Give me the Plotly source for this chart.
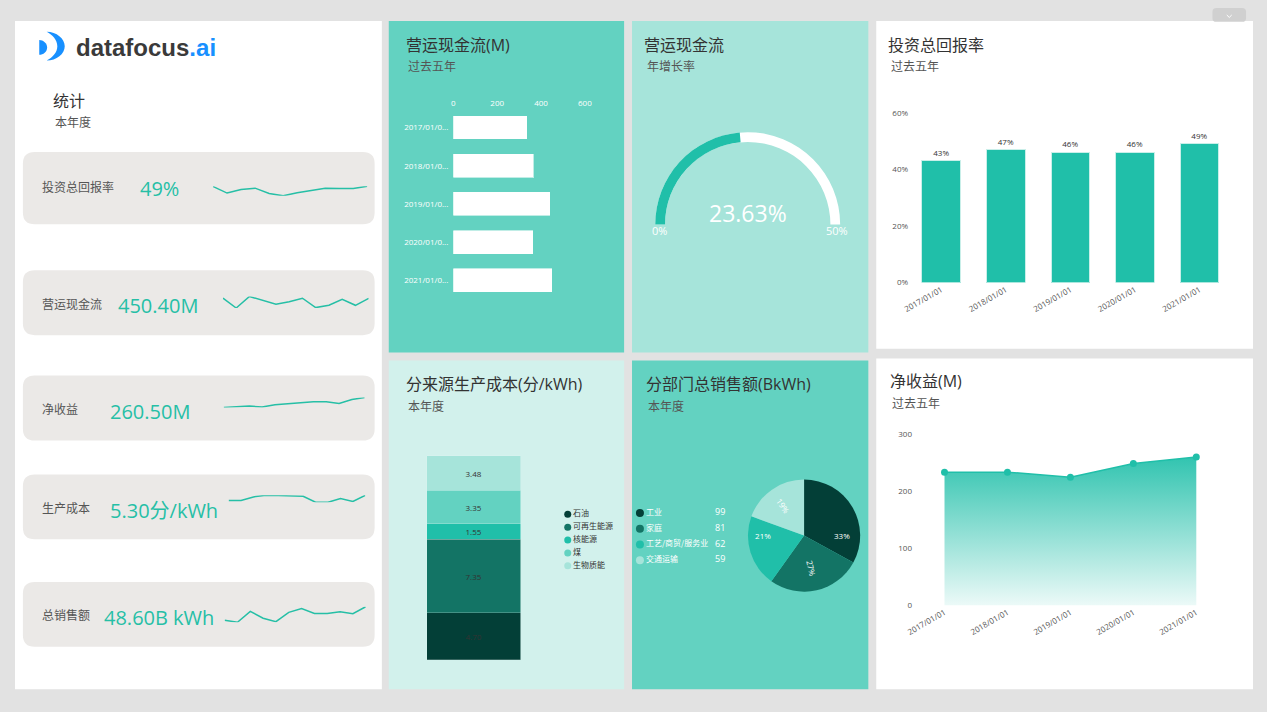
import plotly.graph_objects as go

W, H = 1267, 712
# the page keeps its default 8px body margin; the figure fills the body's content box
OFF = 8
FW, FH = W - 2 * OFF, H - 2 * OFF

# ---------------- data ----------------
years = ["2017/01/01", "2018/01/01", "2019/01/01", "2020/01/01", "2021/01/01"]
year_ticks = [y[:9] + "..." for y in years]
cashflow_m = [335, 365, 440, 363, 450]
roi_pct = [43, 47, 46, 46, 49]
roi_ticks = [0, 20, 40, 60]
net_income_m = [234, 234, 225, 249, 260.5]
income_ticks = [0, 100, 200, 300]
cash_ticks = [0, 200, 400, 600]

cost_sources = ["石油", "可再生能源", "核能源", "煤", "生物质能"]
cost_values = [4.70, 7.35, 1.55, 3.35, 3.48]

sectors = ["工业", "家庭", "工艺/商贸/服务业", "交通运输"]
sector_sales = [99.4, 81.4, 62.4, 58.6]

growth_rate = 23.63
growth_max = 50

kpi_names = ["投资总回报率", "营运现金流", "净收益", "生产成本", "总销售额"]
kpi_values = ["49%", "450.40M", "260.50M", "5.30分/kWh", "48.60B kWh"]
spark_roi = [48.8, 44.7, 46.9, 47.8, 44.4, 43.0, 44.9, 46.3, 47.8, 47.6, 47.6, 49.0]
spark_cash = [441, 390, 450, 429, 409, 423, 441, 392, 404, 435, 404, 440]
spark_income = [220, 222.7, 225.3, 221.3, 230.7, 234.7, 238.7, 242.7, 242.7, 236, 252, 260]
spark_cost = [5.12, 5.12, 5.38, 5.5, 5.48, 5.43, 5.43, 5.0, 5.0, 5.26, 5.05, 5.5]
spark_sales = [39.9, 38.6, 45.6, 41.2, 39.0, 45.0, 47.5, 44.3, 44.3, 45.4, 44.1, 48.6]
sparks = [spark_roi, spark_cash, spark_income, spark_cost, spark_sales]

# ---------------- style ----------------
TEAL = "#20bfa9"
DARK1 = "#033f37"
DARK2 = "#137465"
MID = "#63d2c1"
LIGHT = "#a6e4da"
PALE = "#d2f1ec"
PAGE = "#e2e2e2"
CARD = "#ebe9e7"
KPI_C = "#26bfa6"
TXT = "#333333"
SUB = "#555555"
FONT = "Open Sans, Noto Sans CJK SC, sans-serif"
CJK = "Noto Sans CJK SC, sans-serif"


def fx(p):
    return (p - OFF) / FW


def fy(p):
    return 1 - (p - OFF) / FH


def dx(a, b):
    return [fx(a), fx(b)]


def dy(top, bottom):
    return [fy(bottom), fy(top)]


def P(x, y):
    return f"{fx(x):.5f},{fy(y):.5f}"


def rrect(x0, y0, x1, y1, r):
    return (f"M{P(x0 + r, y0)} L{P(x1 - r, y0)} Q{P(x1, y0)} {P(x1, y0 + r)} "
            f"L{P(x1, y1 - r)} Q{P(x1, y1)} {P(x1 - r, y1)} L{P(x0 + r, y1)} "
            f"Q{P(x0, y1)} {P(x0, y1 - r)} L{P(x0, y0 + r)} Q{P(x0, y0)} {P(x0 + r, y0)} Z")


fig = go.Figure()
shapes = []
annotations = []


def panel(x0, y0, x1, y1, color):
    shapes.append(dict(type="rect", xref="paper", yref="paper", x0=fx(x0), x1=fx(x1),
                       y0=fy(y1), y1=fy(y0), fillcolor=color, line=dict(width=0), layer="below"))


panel(8, 15, 379, 694, "white")
panel(386, 15, 624, 352, MID)
panel(632, 15, 871, 352, LIGHT)
panel(879, 15, 1260, 348, "white")
panel(386, 360, 624, 694, PALE)
panel(632, 360, 871, 694, MID)
panel(879, 358, 1260, 694, "white")

# top-right tab
shapes.append(dict(type="path", xref="paper", yref="paper", path=rrect(1219, 2, 1253, 16, 4),
                   fillcolor="#d0d0d0", line=dict(width=0), layer="below"))
shapes.append(dict(type="path", xref="paper", yref="paper",
                   path=f"M{P(1233.5, 9)} L{P(1236, 11.5)} L{P(1238.5, 9)}",
                   line=dict(color="white", width=1)))

# logo icon
shapes.append(dict(type="path", xref="paper", yref="paper",
                   path=(f"M{P(32.5, 34.5)} C{P(36.6, 34.5)} {P(40.5, 37.8)} {P(40.5, 42)} "
                         f"C{P(40.5, 46.2)} {P(36.6, 49.5)} {P(32.5, 49.5)} Z"),
                   fillcolor="#1890ff", line=dict(width=0)))
shapes.append(dict(type="path", xref="paper", yref="paper",
                   path=(f"M{P(40, 26)} C{P(50, 26)} {P(58.3, 33)} {P(58.3, 40.7)} "
                         f"C{P(58.3, 48.4)} {P(50, 55.3)} {P(40, 55.3)} "
                         f"C{P(46, 52)} {P(50.8, 47)} {P(50.8, 40.7)} "
                         f"C{P(50.8, 34.4)} {P(46, 29)} {P(40, 26)} Z"),
                   fillcolor="#1890ff", line=dict(width=0)))

# KPI cards
card_boxes = [(16, 148.3, 371.7, 221.7), (16, 268.3, 371.7, 334.3), (16, 375.3, 371.7, 441.3),
              (16, 476, 371.7, 541.7), (16, 585, 371.7, 651)]
for (x0, y0, x1, y1) in card_boxes:
    shapes.append(dict(type="path", xref="paper", yref="paper", path=rrect(x0, y0, x1, y1, 12),
                       fillcolor=CARD, line=dict(width=0), layer="below"))


def text(x, y, s, size, color, family=FONT, xanchor="left"):
    annotations.append(dict(x=fx(x), y=fy(y), xref="paper", yref="paper", text=s, showarrow=False,
                            xanchor=xanchor, yanchor="middle", font=dict(size=size, color=color, family=family)))


# logo text
annotations.append(dict(x=fx(68), y=fy(42), xref="paper", yref="paper", showarrow=False,
                        xanchor="left", yanchor="middle",
                        text="<b>datafocus<span style='color:#1890ff'>.ai</span></b>",
                        font=dict(size=24, color="#3a3a3a", family="Liberation Sans, Arial, sans-serif")))

# titles
titles = [
    (44, 96, "统计", 46, 118, "本年度"),
    (401, 39, "营运现金流(M)", 403, 61, "过去五年"),
    (642, 39, "营运现金流", 645, 61, "年增长率"),
    (889, 39, "投资总回报率", 892, 61, "过去五年"),
    (401, 384, "分来源生产成本(分/kWh)", 403, 407, "本年度"),
    (644, 384, "分部门总销售额(BkWh)", 646, 407, "本年度"),
    (891, 381, "净收益(M)", 893, 404, "过去五年"),
]
for (tx, ty, t, sx, sy, s) in titles:
    text(tx, ty, t, 16, TXT)
    text(sx, sy, s, 12, SUB)

# KPI texts
kpi_label_y = [184, 303, 410, 510, 619]
kpi_value_x = [132, 110.5, 102, 102, 95.5]
kpi_value_y = [185, 304, 412, 512.5, 621.5]
for i in range(5):
    text(33, kpi_label_y[i], kpi_names[i], 12, SUB)
    text(kpi_value_x[i], kpi_value_y[i], kpi_values[i], 20, KPI_C)

# ---------------- traces ----------------
# 1. horizontal bars
fig.add_trace(go.Bar(y=years, x=cashflow_m, orientation="h", width=0.6,
                     marker=dict(color="white", line=dict(color="rgba(255,255,255,0.6)", width=1)),
                     xaxis="x", yaxis="y", showlegend=False))

# 2. ROI bars
fig.add_trace(go.Bar(x=years, y=roi_pct, width=0.6,
                     marker=dict(color=TEAL, line=dict(color="#c9efe9", width=1)),
                     text=[f"{v}%" for v in roi_pct], textposition="outside",
                     textfont=dict(size=8, color=TXT), cliponaxis=False,
                     xaxis="x2", yaxis="y2", showlegend=False))

# 3. stacked cost bar
cost_colors = [DARK1, DARK2, TEAL, MID, LIGHT]
for name, v, c in zip(cost_sources, cost_values, cost_colors):
    fig.add_trace(go.Bar(x=[0], y=[v], name=name, width=1,
                         marker=dict(color=c, line=dict(color="rgba(255,255,255,0.35)", width=0.6)),
                         text=[f"{v:.2f}"], textposition="inside", insidetextanchor="middle",
                         textfont=dict(size=8, color=TXT), constraintext="none",
                         xaxis="x3", yaxis="y3", showlegend=False))

# 4. stacked legend
fig.add_trace(go.Scatter(x=[0] * len(cost_sources), y=cost_sources, mode="markers+text",
                         marker=dict(color=cost_colors, size=7), text=cost_sources,
                         textposition="middle right", textfont=dict(size=8, color=TXT, family=CJK),
                         cliponaxis=False, xaxis="x4", yaxis="y4", showlegend=False))

# 5. pie
sector_colors = [DARK1, DARK2, TEAL, LIGHT]
fig.add_trace(go.Pie(labels=sectors, values=sector_sales, sort=False, direction="clockwise",
                     rotation=0, marker=dict(colors=sector_colors, line=dict(width=0)),
                     texttemplate="%{percent:.0%}", textposition="inside",
                     insidetextorientation="radial", textfont=dict(size=8, color="white"),
                     domain=dict(x=dx(749, 863), y=dy(481, 595)), showlegend=False))

# 6. pie legend
fig.add_trace(go.Scatter(x=[0] * len(sectors), y=sectors, mode="markers+text",
                         marker=dict(color=sector_colors, size=8), text=sectors,
                         textposition="middle right", textfont=dict(size=8, color="white", family=CJK),
                         cliponaxis=False, xaxis="x6", yaxis="y6", showlegend=False))
fig.add_trace(go.Scatter(x=[1] * len(sectors), y=sectors, mode="text",
                         text=[f"{v:.0f}" for v in sector_sales],
                         textposition="middle right", textfont=dict(size=9, color="white"),
                         cliponaxis=False, xaxis="x6", yaxis="y6", showlegend=False))

# 7. net income area
fig.add_trace(go.Scatter(x=years, y=net_income_m, mode="lines+markers", fill="tozeroy",
                         line=dict(color=TEAL, width=1.5), marker=dict(color=TEAL, size=7),
                         fillgradient=dict(type="vertical", start=0, stop=max(net_income_m),
                                           colorscale=[[0, "rgba(32,191,169,0.07)"],
                                                       [1, "rgba(32,191,169,0.92)"]]),
                         cliponaxis=False, xaxis="x5", yaxis="y5", showlegend=False))

# 8. gauge (outer radius ~94px, ring ~10px wide)
g_r = 101.7
g_cx, g_cy = 749, 222
fig.add_trace(go.Indicator(mode="gauge", value=growth_rate,
                           domain=dict(x=dx(g_cx - g_r, g_cx + g_r), y=dy(g_cy - g_r, g_cy)),
                           gauge=dict(shape="angular",
                                      axis=dict(range=[0, growth_max], visible=False),
                                      bar=dict(color=TEAL, thickness=0.39, line=dict(width=0)),
                                      bgcolor="rgba(0,0,0,0)", borderwidth=0,
                                      steps=[dict(range=[0, growth_max], color="white",
                                                  thickness=0.39, line=dict(width=0))])))
text(749, 210, f"{growth_rate:.2f}%", 23, "white", xanchor="center")
text(660, 228, "0%", 11, "white", xanchor="center")
text(839.5, 228, f"{growth_max}%", 11, "white", xanchor="center")

# 9. sparklines
spark_boxes = [(208.3, 183, 364.3, 192.7), (218.3, 295, 365.7, 306.7), (219, 397.7, 361.7, 407.7),
               (224, 497, 362.3, 504), (220, 610.3, 362.7, 626)]
layout_axes = {}
for i, (data, (x0, y0, x1, y1)) in enumerate(zip(sparks, spark_boxes)):
    n = 7 + i
    fig.add_trace(go.Scatter(x=list(range(len(data))), y=data, mode="lines",
                             line=dict(color=KPI_C, width=1.5), cliponaxis=False,
                             xaxis=f"x{n}", yaxis=f"y{n}", showlegend=False))
    layout_axes[f"xaxis{n}"] = dict(domain=dx(x0, x1), range=[0, len(data) - 1], visible=False,
                                    anchor=f"y{n}")
    layout_axes[f"yaxis{n}"] = dict(domain=dy(y0, y1), range=[min(data), max(data)], visible=False,
                                    anchor=f"x{n}")

tick8 = dict(size=8, color=SUB)
fig.update_layout(
    autosize=True,
    margin=dict(l=0, r=0, t=0, b=0, pad=0),
    paper_bgcolor=PAGE, plot_bgcolor="rgba(0,0,0,0)",
    font=dict(family=FONT, color=TXT),
    barmode="stack", hovermode=False, showlegend=False,
    shapes=shapes, annotations=annotations,
    xaxis=dict(domain=dx(451.3, 584.3), range=[0, 600], side="top", anchor="y",
               tickvals=cash_ticks, ticktext=[str(v) for v in cash_ticks],
               tickfont=dict(size=8, color="white"),
               showgrid=False, zeroline=False, showline=False, ticks=""),
    yaxis=dict(domain=dy(103.9, 298.1), type="category", categoryarray=years, range=[4.5, -0.5],
               anchor="x", tickvals=years, ticktext=year_ticks, tickfont=dict(size=8, color="white"),
               showgrid=False, zeroline=False, showline=False, ticks="", ticklabelstandoff=4),
    xaxis2=dict(domain=dx(912.2, 1238.4), type="category", range=[-0.5, 4.5], anchor="y2",
                tickangle=-30, tickfont=tick8, showgrid=False, zeroline=False, showline=False),
    yaxis2=dict(domain=dy(108.3, 281), range=[0, 60], anchor="x2", tickvals=roi_ticks,
                ticktext=[f"{v}%" for v in roi_ticks],
                tickfont=tick8, showgrid=False, zeroline=False, showline=False),
    xaxis3=dict(domain=dx(424.3, 519.3), range=[-0.5, 0.5], anchor="y3", visible=False),
    yaxis3=dict(domain=dy(456.7, 664.3), range=[0, sum(cost_values)], anchor="x3", visible=False),
    xaxis4=dict(domain=dx(567, 620), range=[0, 1], anchor="y4", visible=False),
    yaxis4=dict(domain=dy(509.8, 575.2), type="category", categoryarray=cost_sources,
                range=[4.5, -0.5], anchor="x4", visible=False),
    xaxis5=dict(domain=dx(916.2, 1234.5), type="category", range=[-0.5, 4.5], anchor="y5",
                tickangle=-30, tickfont=tick8, showgrid=False, zeroline=False, showline=False),
    yaxis5=dict(domain=dy(435.3, 609), range=[0, 300], anchor="x5", tickvals=income_ticks,
                ticktext=[str(v) for v in income_ticks],
                tickfont=tick8, showgrid=False, zeroline=False, showline=False),
    xaxis6=dict(domain=dx(640, 716), range=[0, 1], anchor="y6", visible=False),
    yaxis6=dict(domain=dy(507, 571), type="category", categoryarray=sectors,
                range=[3.5, -0.5], anchor="x6", visible=False),
    **layout_axes,
)

# figure fills the body's content box (window minus the default 8px body margin);
# the margin itself is painted in the page grey
fig.write_html("out.html", config={"displayModeBar": False},
               default_width="100%", default_height="calc(100vh - 16px)",
               post_script="document.body.style.background='#e2e2e2';"
                           "document.documentElement.style.background='#e2e2e2';")
